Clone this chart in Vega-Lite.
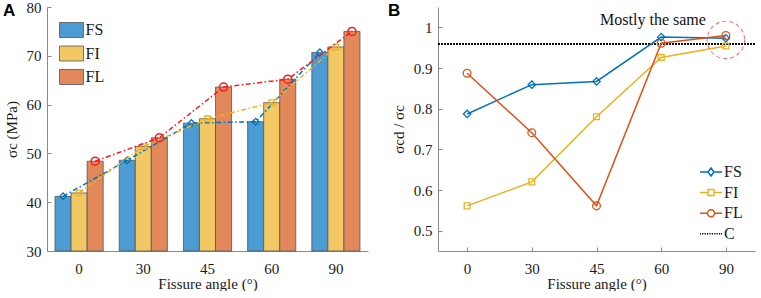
{
  "$schema": "https://vega.github.io/schema/vega-lite/v6.json",
  "padding": {"left": 3, "top": 0, "right": 0, "bottom": 0},
  "spacing": 20,
  "background": "white",
  "resolve": {"scale": {"color": "independent"}, "legend": {"color": "independent"}},
  "config": {
    "view": {"stroke": null},
    "font": "Liberation Serif",
    "axis": {
      "domainColor": "#8a8a8a", "tickColor": "#8a8a8a", "tickSize": -4, "grid": false,
      "labelFont": "Liberation Serif", "titleFont": "Liberation Serif",
      "labelFontSize": 15, "titleFontSize": 15, "titleFontWeight": "normal",
      "labelColor": "#1a1a1a", "titleColor": "#1a1a1a"
    },
    "axisX": {"labelAngle": 0, "labelPadding": 14, "titlePadding": 0},
    "axisY": {"labelPadding": 10, "titlePadding": 7},
    "legend": {"labelFont": "Liberation Serif", "labelFontSize": 16, "labelColor": "#1a1a1a"}
  },
  "hconcat": [
    {
      "width": 321, "height": 244,
      "data": {"values": [
        {"angle": 0, "series": "FS", "sc": 41.2}, {"angle": 30, "series": "FS", "sc": 48.6}, {"angle": 45, "series": "FS", "sc": 56.2}, {"angle": 60, "series": "FS", "sc": 56.5}, {"angle": 90, "series": "FS", "sc": 70.7},
        {"angle": 0, "series": "FI", "sc": 41.9}, {"angle": 30, "series": "FI", "sc": 51.4}, {"angle": 45, "series": "FI", "sc": 57.1}, {"angle": 60, "series": "FI", "sc": 60.4}, {"angle": 90, "series": "FI", "sc": 71.8},
        {"angle": 0, "series": "FL", "sc": 48.4}, {"angle": 30, "series": "FL", "sc": 53.2}, {"angle": 45, "series": "FL", "sc": 63.6}, {"angle": 60, "series": "FL", "sc": 65.2}, {"angle": 90, "series": "FL", "sc": 75.0}
      ]},
      "encoding": {
        "x": {"field": "angle", "type": "ordinal", "scale": {"paddingInner": 0.25, "paddingOuter": 0.125}, "axis": {"title": "Fissure angle (°)"}},
        "xOffset": {"field": "series", "type": "nominal", "sort": ["FS", "FI", "FL"], "scale": {"paddingInner": 0, "paddingOuter": 0}},
        "y": {"field": "sc", "type": "quantitative", "scale": {"domain": [30, 80]}, "axis": {"values": [30, 40, 50, 60, 70, 80], "title": "σc (MPa)"}}
      },
      "layer": [
        {
          "mark": {"type": "bar", "stroke": "#555555", "strokeWidth": 0.8},
          "encoding": {
            "y2": {"datum": 30},
            "color": {"field": "series", "type": "nominal", "scale": {"domain": ["FS", "FI", "FL"], "range": ["#4C9BD3", "#F2C865", "#E2895C"]},
              "legend": {"title": null, "orient": "none", "legendX": 16.5, "legendY": 15, "symbolType": "M-1.6,-1H1.6V1H-1.6Z", "symbolSize": 225, "symbolStrokeColor": "#555555", "symbolStrokeWidth": 0.8, "rowPadding": 3.5, "labelOffset": 6}}
          }
        },
        {
          "transform": [{"filter": "datum.series === 'FS'"}],
          "mark": {"type": "line", "color": "#0072BD", "strokeWidth": 1.5, "strokeDash": [5, 2.5, 1.5, 2.5], "point": {"shape": "diamond", "filled": false, "size": 45, "strokeWidth": 1.3, "color": "#0072BD"}}
        },
        {
          "transform": [{"filter": "datum.series === 'FI'"}],
          "mark": {"type": "line", "color": "#EDB120", "strokeWidth": 1.5, "strokeDash": [5, 2.5, 1.5, 2.5], "point": {"shape": "square", "filled": false, "size": 30, "strokeWidth": 1.3, "color": "#EDB120"}}
        },
        {
          "transform": [{"filter": "datum.series === 'FL'"}],
          "mark": {"type": "line", "color": "#FF1A1A", "strokeWidth": 1.5, "strokeDash": [5, 2.5, 1.5, 2.5], "point": {"shape": "circle", "filled": false, "size": 64, "strokeWidth": 1.5, "color": "#FF1A1A"}}
        },
        {
          "data": {"values": [{"angle": 0, "sc": 80, "label": "A"}]},
          "mark": {"type": "text", "align": "left", "baseline": "alphabetic", "dx": -76, "dy": 9, "font": "Liberation Sans", "fontSize": 17, "fontWeight": "bold", "color": "#000000"},
          "encoding": {"xOffset": null, "text": {"field": "label"}}
        }
      ]
    },
    {
      "width": 317, "height": 244,
      "data": {"values": [
        {"angle": 0, "series": "FS", "r": 0.787}, {"angle": 30, "series": "FS", "r": 0.859}, {"angle": 45, "series": "FS", "r": 0.867}, {"angle": 60, "series": "FS", "r": 0.976}, {"angle": 90, "series": "FS", "r": 0.973},
        {"angle": 0, "series": "FI", "r": 0.561}, {"angle": 30, "series": "FI", "r": 0.620}, {"angle": 45, "series": "FI", "r": 0.780}, {"angle": 60, "series": "FI", "r": 0.926}, {"angle": 90, "series": "FI", "r": 0.954},
        {"angle": 0, "series": "FL", "r": 0.887}, {"angle": 30, "series": "FL", "r": 0.741}, {"angle": 45, "series": "FL", "r": 0.561}, {"angle": 60, "series": "FL", "r": 0.961}, {"angle": 90, "series": "FL", "r": 0.980}
      ]},
      "encoding": {
        "x": {"field": "angle", "type": "ordinal", "scale": {"type": "point", "padding": 0.45}, "axis": {"title": "Fissure angle (°)"}},
        "y": {"field": "r", "type": "quantitative", "scale": {"domain": [0.45, 1.05]}, "axis": {"values": [0.5, 0.6, 0.7, 0.8, 0.9, 1], "format": "~g", "title": "σcd / σc"}}
      },
      "layer": [
        {
          "mark": {"type": "rule", "color": "#000000", "strokeWidth": 1.3, "strokeDash": [1.5, 1.5]},
          "encoding": {"y": {"datum": 0.96}, "x": null}
        },
        {
          "transform": [{"filter": "datum.series === 'FS'"}],
          "mark": {"type": "line", "strokeWidth": 1.5, "point": {"shape": "diamond", "filled": false, "size": 55, "strokeWidth": 1.3}},
          "encoding": {"color": {"field": "series", "type": "nominal", "scale": {"domain": ["FS", "FI", "FL", "C"], "range": ["#0072BD", "#EDB120", "#D95319", "#000000"]},
            "legend": {"title": null, "orient": "none", "legendX": 264, "legendY": 156, "symbolSize": 256, "symbolStrokeWidth": 1.5, "rowPadding": 3.6, "labelOffset": 4,
              "encode": {"symbols": {"update": {
                "shape": {"signal": "datum.value === 'FS' ? 'M-1.375,0H-0.375M0.375,0H1.375M0,-0.5L0.375,0L0,0.5L-0.375,0Z' : datum.value === 'FI' ? 'M-1.375,0H-0.375M0.375,0H1.375M-0.375,-0.375H0.375V0.375H-0.375Z' : datum.value === 'FL' ? 'M-1.375,0H-0.44M0.44,0H1.375M0.44,0A0.44,0.44 0 1,1 -0.44,0A0.44,0.44 0 1,1 0.44,0Z' : 'M-1.375,0H-1.25M-1.1,0H-0.95M-0.8,0H-0.65M-0.5,0H-0.35M-0.2,0H-0.05M0.1,0H0.25M0.4,0H0.55M0.7,0H0.85M1,0H1.15M1.25,0H1.375'"},
                "fill": {"value": "transparent"},
                "strokeWidth": {"value": 1.5}
              }}}}}}
        },
        {
          "transform": [{"filter": "datum.series === 'FI'"}],
          "mark": {"type": "line", "strokeWidth": 1.5, "point": {"shape": "square", "filled": false, "size": 34, "strokeWidth": 1.3}},
          "encoding": {"color": {"field": "series", "type": "nominal", "scale": {"domain": ["FS", "FI", "FL", "C"], "range": ["#0072BD", "#EDB120", "#D95319", "#000000"]}, "legend": null}}
        },
        {
          "transform": [{"filter": "datum.series === 'FL'"}],
          "mark": {"type": "line", "strokeWidth": 1.5, "point": {"shape": "circle", "filled": false, "size": 60, "strokeWidth": 1.3}},
          "encoding": {"color": {"field": "series", "type": "nominal", "scale": {"domain": ["FS", "FI", "FL", "C"], "range": ["#0072BD", "#EDB120", "#D95319", "#000000"]}, "legend": null}}
        },
        {
          "data": {"values": [{"angle": 90, "r": 1.0, "label": "Mostly the same"}]},
          "mark": {"type": "text", "align": "right", "baseline": "alphabetic", "dx": -20, "dy": -2, "fontSize": 16, "font": "Liberation Serif", "color": "#111111"},
          "encoding": {"text": {"field": "label"}}
        },
        {
          "data": {"values": [{"angle": 0, "r": 1.05, "label": "B"}]},
          "mark": {"type": "text", "align": "left", "baseline": "alphabetic", "dx": -79, "dy": 8.5, "font": "Liberation Sans", "fontSize": 17, "fontWeight": "bold", "color": "#000000"},
          "encoding": {"text": {"field": "label"}}
        },
        {
          "data": {"values": [{"angle": 90, "r": 0.969}]},
          "mark": {"type": "point", "shape": "circle", "filled": false, "size": 1400, "stroke": "#FF3B3B", "strokeWidth": 1.1, "strokeDash": [4, 3]}
        }
      ]
    }
  ]
}
